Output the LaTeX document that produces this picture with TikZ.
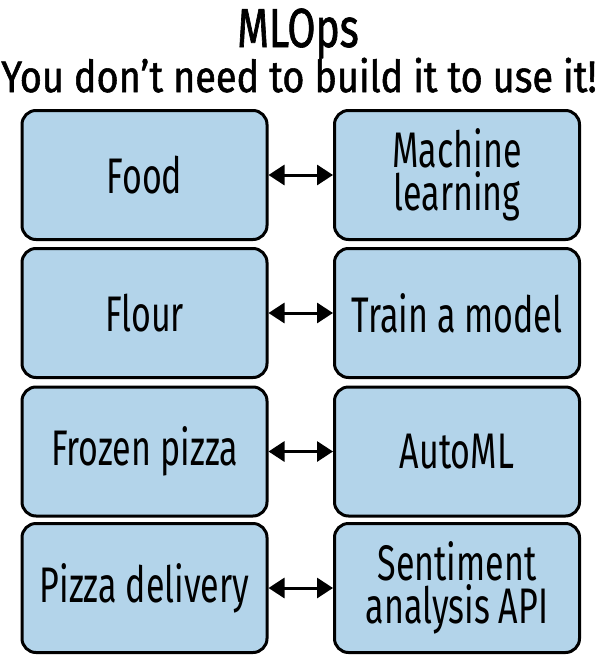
\documentclass[tikz,border=0pt]{standalone}
\usepackage{fontspec}
\setmainfont{Fira Sans}[FakeStretch=0.68]
\newfontfamily\titlebig{Fira Sans}[FakeStretch=0.74,FakeBold=1.2]
\newfontfamily\titlesub{Fira Sans}[FakeStretch=0.86,FakeBold=1.2]
\usetikzlibrary{arrows.meta}
\definecolor{boxblue}{HTML}{B3D4EA}
\tikzset{
  card/.style={draw=black, line width=3pt, fill=boxblue, rounded corners=14pt,
    minimum width=245pt, minimum height=129pt, align=center, inner sep=0pt,
    font=\fontsize{50}{43}\selectfont},
  link/.style={line width=3pt, {Triangle[length=16pt,width=20pt]}-{Triangle[length=16pt,width=20pt]}},
  titletext/.style={inner sep=0pt, anchor=base}
}
\begin{document}
\begin{tikzpicture}[x=1pt,y=1pt]
\useasboundingbox (0,0) rectangle (600,-656);
\node[titletext, font=\titlebig\fontsize{55}{56}\selectfont] (t1) at (298,-47) {MLOps};
\node[titletext, font=\titlesub\fontsize{44}{46}\selectfont] (t2) at (299,-92) {You don’t need to build it to use it!};
\node[card] (l1) at (144.5,-175) {Food};
\node[card] (r1) at (457,-175) {Machine\\learning};
\node[card] (l2) at (144.5,-313) {Flour};
\node[card] (r2) at (457,-313) {Train a model};
\node[card] (l3) at (144.5,-451.5) {Frozen pizza};
\node[card] (r3) at (457,-451.5) {AutoML};
\node[card] (l4) at (144.5,-588) {Pizza delivery};
\node[card] (r4) at (457,-588) {Sentiment\\analysis API};
\foreach \i in {1,2,3,4}{\draw[link] (l\i) -- (r\i);}
\end{tikzpicture}
\end{document}
